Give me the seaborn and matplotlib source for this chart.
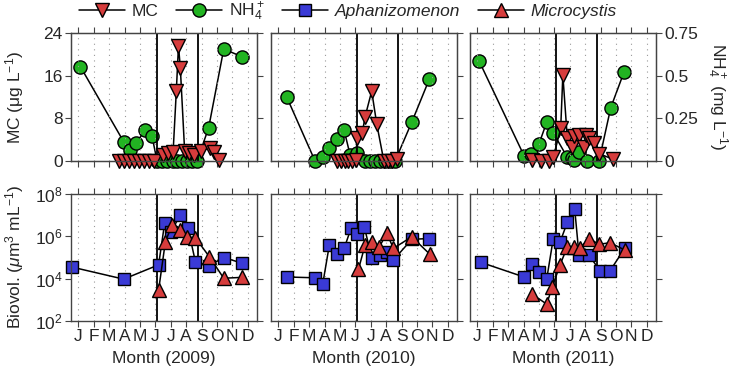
import numpy as np
import matplotlib
matplotlib.use("Agg")
import matplotlib.pyplot as plt
from matplotlib.lines import Line2D
from matplotlib.ticker import NullLocator
import seaborn as sns

# months as decimal month-of-year (1 = Jan)
years = ["2009", "2010", "2011"]
month_labels = ["J", "F", "M", "A", "M", "J", "J", "A", "S", "O", "N", "D"]

# microcystin (ug/L)
mc09_m = [3.62, 3.95, 4.28, 4.6, 4.93, 5.25, 5.58, 5.9, 6.5, 6.85, 7.15, 7.36, 7.5, 7.62,
          7.9, 8.2, 8.5, 8.95, 9.55, 9.8, 10.1]
mc09_v = [0, 0, 0, 0, 0, 0, 0, 0, 1.2, 1.5, 1.6, 13.1, 21.6, 17.5, 1.9, 1.5, 1.1, 1.9, 2.4, 1.6, 0.2]
mc10_m = [4.8, 5.05, 5.3, 5.55, 5.8, 6.05, 6.1, 6.45, 6.63, 7.06, 7.39, 7.85, 8.1, 8.4, 8.7]
mc10_v = [0, 0, 0, 0, 0, 0.2, 4.4, 5.3, 8.3, 13.1, 6.9, 0, 0, 0, 0.3]
mc11_m = [4.57, 5.1, 5.65, 5.94, 6.41, 6.55, 6.84, 7.17, 7.28, 7.6, 7.93, 8.04, 8.25, 8.58, 8.9, 9.82]
mc11_v = [0.2, 0, 0, 0.8, 6.1, 16.1, 4.3, 2.7, 4.7, 4.9, 2.7, 4.9, 4.3, 3.3, 1.4, 0.3]

# ammonium (mg/L)
nh09_m = [1.13, 3.94, 4.33, 4.77, 5.31, 5.78, 6.11, 6.44, 6.76, 7.12, 7.41, 7.73, 8.06, 8.38,
          8.71, 9.46, 10.44, 11.63]
nh09_v = [0.553, 0.113, 0.064, 0.104, 0.182, 0.146, 0, 0, 0, 0, 0, 0, 0, 0, 0, 0.195, 0.656, 0.611]
nh10_m = [1.55, 3.38, 3.88, 4.31, 4.79, 5.27, 5.66, 6.13, 6.63, 6.95, 7.28, 7.6, 7.93, 8.25,
          8.58, 9.66, 10.8]
nh10_v = [0.373, 0.0, 0.025, 0.074, 0.13, 0.18, 0.035, 0.045, 0, 0, 0, 0, 0, 0, 0, 0.227, 0.479]
nh11_m = [1.11, 4.03, 4.47, 5.0, 5.5, 5.92, 6.84, 7.17, 7.3, 7.6, 8.15, 8.9, 9.66, 10.53]
nh11_v = [0.586, 0.031, 0.041, 0.1, 0.227, 0.166, 0.022, 0.016, 0.008, 0.05, 0.002, 0.0, 0.312, 0.523]

# Aphanizomenon biovolume (um3/mL)
aph09_m = [0.6, 3.94, 6.21, 6.6, 7.0, 7.62, 8.12, 8.6, 9.46, 10.44, 11.63]
aph09_v = [3.5e4, 9.5e3, 4.5e4, 4.1e6, 1.6e6, 1.0e7, 2.4e6, 6.3e4, 4.0e4, 1.0e5, 5.4e4]
aph10_m = [1.55, 3.38, 3.88, 4.31, 4.79, 5.27, 5.72, 6.13, 6.58, 7.06, 7.6, 8.04, 8.47, 9.66, 10.8]
aph10_v = [1.2e4, 1.1e4, 5.6e3, 3.9e5, 1.45e5, 2.7e5, 2.4e6, 1.26e6, 2.8e6, 1.0e5, 1.3e5,
           1.9e5, 7.6e4, 7.2e5, 7.9e5]
aph11_m = [1.22, 4.03, 4.53, 5.0, 5.5, 5.92, 6.37, 6.84, 7.32, 7.6, 8.25, 8.95, 9.62, 10.57]
aph11_v = [5.9e4, 1.2e4, 4.8e4, 2.1e4, 9.5e3, 7.2e5, 5.4e5, 4.6e6, 1.95e7, 1.3e5, 1.3e5,
           2.4e4, 2.4e4, 2.7e5]

# Microcystis biovolume (um3/mL)
mic09_m = [6.21, 6.65, 7.08, 7.62, 8.06, 8.6, 9.5, 10.44, 11.63]
mic09_v = [2.9e3, 5.6e5, 3.4e6, 2.0e6, 9.5e5, 8.5e5, 1.1e5, 1.05e4, 1.15e4]
mic10_m = [6.2, 6.63, 7.06, 7.56, 8.04, 8.47, 9.66, 10.85]
mic10_v = [2.75e4, 3.9e5, 5.6e5, 3.2e5, 1.4e6, 2.7e5, 9.5e5, 1.4e5]
mic11_m = [4.53, 5.5, 5.87, 6.37, 6.84, 7.28, 7.67, 8.25, 8.9, 9.62, 10.6]
mic11_v = [1.9e3, 6.3e2, 4.2e3, 4.5e4, 3.2e5, 3.2e5, 2.9e5, 7.9e5, 4.2e5, 5.0e5, 2.2e5]

# bloom period boundaries (month)
period = [6.08, 8.78]

mc = [(mc09_m, mc09_v), (mc10_m, mc10_v), (mc11_m, mc11_v)]
nh = [(nh09_m, nh09_v), (nh10_m, nh10_v), (nh11_m, nh11_v)]
aph = [(aph09_m, aph09_v), (aph10_m, aph10_v), (aph11_m, aph11_v)]
mic = [(mic09_m, mic09_v), (mic10_m, mic10_v), (mic11_m, mic11_v)]

RED = "#d63c3c"
GREEN = "#22b422"
BLUE = "#3a3ad6"

sns.set_style("ticks")
plt.rcParams["font.family"] = ["Liberation Sans", "DejaVu Sans"]
plt.rcParams["mathtext.fontset"] = "custom"
plt.rcParams["mathtext.rm"] = "Liberation Sans"
plt.rcParams["mathtext.it"] = "Liberation Sans:italic"
plt.rcParams["mathtext.bf"] = "Liberation Sans:bold"
FS = 12.5
plt.rcParams["font.size"] = FS

W, H = 737, 377
fig = plt.figure(figsize=(W / 100, H / 100), dpi=100)

lefts = [71, 271, 470]
width = 186


def series(ax, xy, marker, face, ms):
    sns.lineplot(x=xy[0], y=xy[1], ax=ax, color="k", lw=1.1, marker=marker,
                 markersize=ms, markerfacecolor=face, markeredgecolor="k",
                 markeredgewidth=1.0, estimator=None, sort=False, clip_on=False)


def style_x(ax, labels):
    ax.set_xlim(0.52, 12.6)
    ax.set_xticks(range(1, 13))
    ax.grid(axis="x", ls=(0, (1, 4)), color="#999999", lw=0.8)
    for x in period:
        ax.axvline(x, color="k", lw=1.3, zorder=1)
    ax.tick_params(axis="x", direction="out", length=4, width=0.8, top=True,
                   bottom=True, labelbottom=labels, pad=2, color="#444444")
    if labels:
        ax.set_xticklabels(month_labels)
    for s in ax.spines.values():
        s.set_color("#444444")
        s.set_linewidth(1.0)


for i in range(3):
    # top row: MC and NH4+
    ax = fig.add_axes([lefts[i] / W, 1 - 161 / H, width / W, 128 / H])
    tw = ax.twinx()
    series(tw, nh[i], "o", GREEN, 9.5)
    series(ax, mc[i], "v", RED, 10)
    ax.set_zorder(tw.get_zorder() + 1)
    ax.patch.set_visible(False)
    ax.set_ylim(0, 24)
    ax.set_yticks([0, 8, 16, 24])
    tw.set_ylim(0, 0.75)
    tw.set_yticks([0, 0.25, 0.5, 0.75])
    tw.set_yticklabels(["0", "0.25", "0.5", "0.75"] if i == 2 else [])
    tw.tick_params(axis="y", direction="out", length=4, width=0.8, pad=2, color="#444444")
    ax.tick_params(axis="y", direction="out", length=4, width=0.8, pad=2,
                   left=(i == 0), labelleft=(i == 0), color="#444444")
    style_x(ax, False)
    for s in tw.spines.values():
        s.set_color("#444444")
    ax.set_xlabel("")
    ax.set_ylabel("")
    tw.set_ylabel("")

    # bottom row: biovolumes
    bx = fig.add_axes([lefts[i] / W, 1 - 321 / H, width / W, 127 / H])
    series(bx, aph[i], "s", BLUE, 9)
    series(bx, mic[i], "^", RED, 10)
    bx.set_yscale("log")
    bx.set_ylim(1e2, 1e8)
    bx.set_yticks([1e2, 1e4, 1e6, 1e8])
    bx.yaxis.set_minor_locator(NullLocator())
    bx.tick_params(axis="y", direction="out", length=4, width=0.8, pad=2, right=True,
                   left=(i == 0), labelleft=(i == 0), color="#444444")
    style_x(bx, True)
    bx.set_ylabel("")
    bx.set_xlabel(f"Month ({years[i]})", labelpad=5)

fig.text(15 / W, 1 - 97 / H, "MC (μg L$^{-1}$)", rotation=90, ha="center", va="center")
fig.text(15 / W, 1 - 257 / H, "Biovol. ($\\mu$m$^3$ mL$^{-1}$)", rotation=90,
         ha="center", va="center")
fig.text(717 / W, 1 - 97 / H, "NH$_4^+$ (mg L$^{-1}$)", rotation=270, ha="center",
         va="center")

handles = [
    Line2D([], [], color="k", lw=1.1, marker="v", ms=10, mfc=RED, mec="k"),
    Line2D([], [], color="k", lw=1.1, marker="o", ms=9.5, mfc=GREEN, mec="k"),
    Line2D([], [], color="k", lw=1.1, marker="s", ms=9, mfc=BLUE, mec="k"),
    Line2D([], [], color="k", lw=1.1, marker="^", ms=10, mfc=RED, mec="k"),
]
labels = ["MC", "NH$_4^+$", "Aphanizomenon", "Microcystis"]
leg = fig.legend(handles, labels, loc="center", bbox_to_anchor=(0.472, 1 - 12 / H), ncol=4,
                 frameon=False, handlelength=2.65, columnspacing=1.0, handletextpad=0.4,
                 fontsize=FS, borderaxespad=0)
leg.get_texts()[2].set_style("italic")
leg.get_texts()[3].set_style("italic")

fig.savefig("out.png", dpi=100)
